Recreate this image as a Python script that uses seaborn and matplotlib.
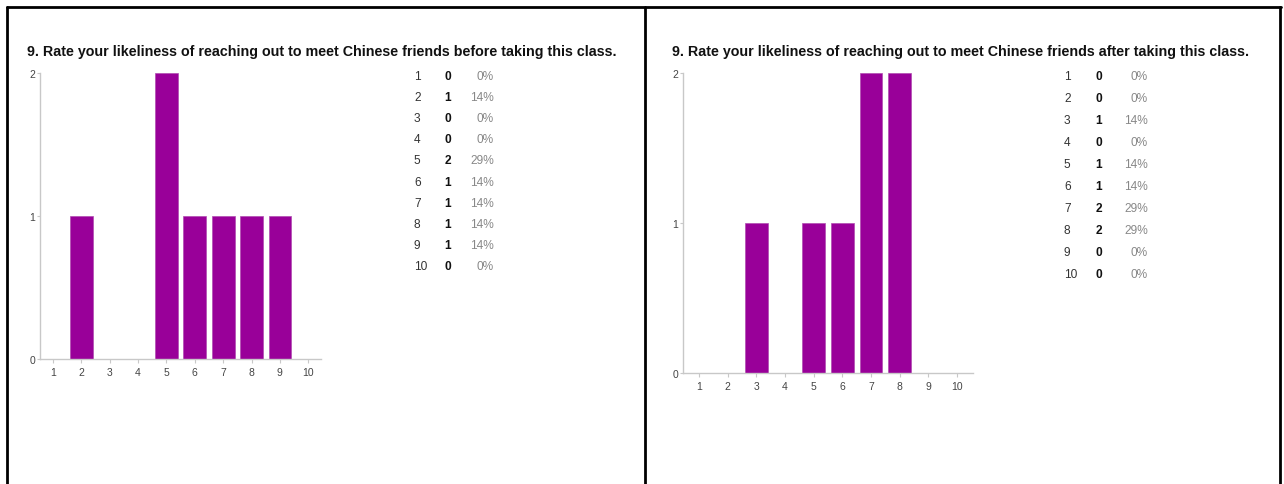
import matplotlib
matplotlib.use("Agg")
import matplotlib.pyplot as plt
import seaborn as sns
import pandas as pd
from matplotlib.lines import Line2D

sns.set_style("white")
plt.rcParams["font.family"] = ["Liberation Sans", "DejaVu Sans"]

ratings = [str(i) for i in range(1, 11)]
before_counts = [0, 1, 0, 0, 2, 1, 1, 1, 1, 0]
before_pct = ["0%", "14%", "0%", "0%", "29%", "14%", "14%", "14%", "14%", "0%"]
after_counts = [0, 0, 1, 0, 1, 1, 2, 2, 0, 0]
after_pct = ["0%", "0%", "14%", "0%", "14%", "14%", "29%", "29%", "0%", "0%"]

title_before = "9. Rate your likeliness of reaching out to meet Chinese friends before taking this class."
title_after = "9. Rate your likeliness of reaching out to meet Chinese friends after taking this class."

W, H = 1284, 485
BAR = "#990099"
AXIS = "#c8c8c8"

fig = plt.figure(figsize=(W / 100, H / 100), dpi=100)


def px_axes(x0, y0, x1, y1):
    # pixel box (top-left origin) -> figure axes
    return fig.add_axes([x0 / W, (H - y1) / H, (x1 - x0) / W, (y1 - y0) / H])


def draw_panel(box, counts, xlim):
    ax = px_axes(*box)
    df = pd.DataFrame({"rating": ratings, "count": counts})
    sns.barplot(data=df, x="rating", y="count", order=ratings, color=BAR,
                saturation=1, width=0.8, edgecolor="#b04cb0", linewidth=0.5, ax=ax)
    ax.set_xlim(*xlim)
    ax.set_ylim(0, 2)
    ax.set_yticks([0, 1, 2])
    ax.set_xlabel("")
    ax.set_ylabel("")
    for s in ["top", "right"]:
        ax.spines[s].set_visible(False)
    for s in ["left", "bottom"]:
        ax.spines[s].set_color(AXIS)
        ax.spines[s].set_linewidth(1)
    ax.tick_params(axis="x", length=3, width=0.8, color=AXIS, labelsize=7.5,
                   labelcolor="#444444", pad=3, bottom=True)
    ax.tick_params(axis="y", length=2, width=0.8, color=AXIS, labelsize=7.5,
                   labelcolor="#444444", pad=1.5, left=True)
    return ax


draw_panel((40, 74, 321, 360), before_counts, (-0.46, 9.45))
draw_panel((683, 74, 973, 374), after_counts, (-0.56, 9.56))


def draw_table(x_num, x_cnt, x_pct, y0, dy, counts, pcts):
    for i, r in enumerate(ratings):
        y = 1 - (y0 + i * dy) / H
        fig.text(x_num / W, y, r, ha="left", va="center", fontsize=8.6, color="#333333")
        fig.text(x_cnt / W, y, str(counts[i]), ha="center", va="center", fontsize=8.6,
                 fontweight="bold", color="#111111")
        fig.text(x_pct / W, y, pcts[i], ha="right", va="center", fontsize=8.6, color="#888888")


draw_table(414, 448, 494, 77, 21.1, before_counts, before_pct)
draw_table(1064, 1099, 1148, 77, 22.0, after_counts, after_pct)

fig.text(27 / W, 1 - 52 / H, title_before, ha="left", va="center", fontsize=10.3,
         fontweight="bold", color="#111111")
fig.text(672 / W, 1 - 52 / H, title_after, ha="left", va="center", fontsize=10.3,
         fontweight="bold", color="#111111")

# panel frame lines
for xs, ys in [((7, 1281), (8, 8)), ((7, 7), (8, 485)), ((645, 645), (8, 485)),
               ((1280, 1280), (8, 485))]:
    fig.add_artist(Line2D([x / W for x in xs], [1 - y / H for y in ys],
                          color="black", linewidth=2, transform=fig.transFigure))

fig.savefig("out.png", dpi=100, facecolor="white")
